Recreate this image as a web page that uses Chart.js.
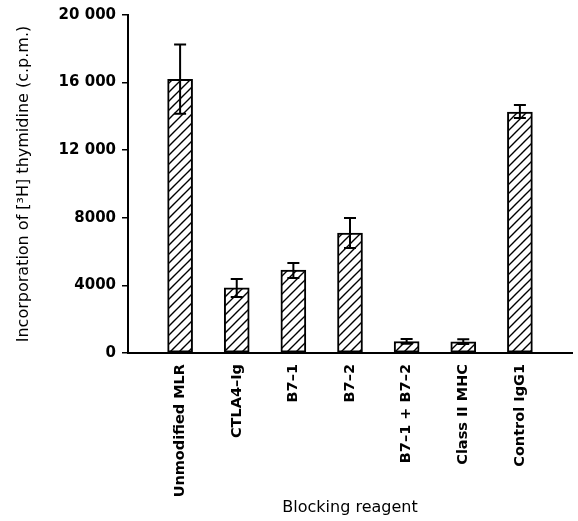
<!DOCTYPE html>
<html>
<head>
<meta charset="utf-8">
<script src="https://cdn.jsdelivr.net/npm/chart.js@4.4.0/dist/chart.umd.min.js"></script>
<style>
  html, body { margin: 0; padding: 0; background: #fff; }
  #wrap { width: 578px; height: 521px; }
</style>
</head>
<body>
<div id="wrap"><canvas id="myChart"></canvas></div>
<script>
var reagents = ['Unmodified MLR', 'CTLA4\u2013Ig', 'B7\u20131', 'B7\u20132', 'B7\u20131 + B7\u20132', 'Class II MHC', 'Control IgG1'];
var counts = [16200, 3850, 4900, 7100, 680, 660, 14250];
var errHigh = [18250, 4380, 5320, 7990, 830, 810, 14670];
var errLow = [14150, 3320, 4440, 6210, 540, 530, 13900];
var yTicks = [0, 4000, 8000, 12000, 16000, 20000];
var yTickLabels = ['0', '4000', '8000', '12 000', '16 000', '20 000'];

// hatch pattern for bars (/// lines, 9px apart)
function hatch() {
	var n = 9;
	var c = document.createElement('canvas');
	c.width = n; c.height = n;
	var g = c.getContext('2d');
	g.fillStyle = '#fff';
	g.fillRect(0, 0, n, n);
	g.strokeStyle = '#000';
	g.lineWidth = 1.4;
	g.beginPath();
	for (var k = 0; k <= 2; k++) {
		var s = k * n;
		g.moveTo(s - n - 2, n + 2);
		g.lineTo(s + 2, -2);
	}
	g.stroke();
	return g.createPattern(c, 'repeat');
}

var errorBars = {
	id: 'errorBars',
	afterDatasetsDraw: function(chart) {
		var ctx = chart.ctx;
		var xs = chart.scales.x, ys = chart.scales.y;
		ctx.save();
		ctx.strokeStyle = '#000';
		ctx.lineWidth = 2;
		for (var i = 0; i < counts.length; i++) {
			var x = xs.getPixelForValue(i);
			var t = ys.getPixelForValue(errHigh[i]);
			var b = ys.getPixelForValue(errLow[i]);
			ctx.beginPath();
			ctx.moveTo(x, t); ctx.lineTo(x, b);
			ctx.moveTo(x - 6, t); ctx.lineTo(x + 6, t);
			ctx.moveTo(x - 6, b); ctx.lineTo(x + 6, b);
			ctx.stroke();
		}
		ctx.restore();
	}
};

var fam = '"DejaVu Sans", sans-serif';

var ctx = document.getElementById('myChart').getContext('2d');
var chart = new Chart(ctx, {
	type: 'bar',
	data: {
		datasets: [{
			data: counts.map(function(v, i) { return { x: i, y: v }; }),
			backgroundColor: hatch(),
			borderColor: '#000',
			borderWidth: 2,
			borderSkipped: false,
			barThickness: 25
		}]
	},
	options: {
		responsive: true,
		maintainAspectRatio: false,
		animation: false,
		layout: { padding: { top: 10, right: 6, left: 10, bottom: 0 } },
		plugins: { legend: { display: false }, tooltip: { enabled: false } },
		scales: {
			x: {
				type: 'linear',
				offset: false,
				min: -0.92,
				max: 6.92,
				afterBuildTicks: function(scale) {
					scale.ticks = reagents.map(function(r, i) { return { value: i }; });
				},
				afterFit: function(scale) { scale.height = 168; },
				grid: { display: false },
				border: { display: true, color: '#000', width: 2 },
				ticks: {
					color: '#000',
					font: { family: fam, size: 14.5, weight: 'bold' },
					minRotation: 90,
					maxRotation: 90,
					padding: 3,
					callback: function(v) { return reagents[v]; }
				},
				title: {
					display: true,
					text: 'Blocking reagent',
					color: '#000',
					font: { family: fam, size: 16 },
					padding: { top: 8, bottom: 4 }
				}
			},
			y: {
				min: 0,
				max: 20000,
				afterBuildTicks: function(scale) {
					scale.ticks = yTicks.map(function(v) { return { value: v }; });
				},
				afterFit: function(scale) { scale.width = 118; },
				grid: { display: true, drawOnChartArea: false, drawTicks: true, tickLength: 6, color: '#000', lineWidth: 1.5 },
				border: { display: true, color: '#000', width: 2 },
				ticks: {
					color: '#000',
					font: { family: fam, size: 15, weight: 'bold' },
					padding: 6,
					callback: function(v) { return yTickLabels[yTicks.indexOf(v)]; }
				},
				title: {
					display: true,
					text: 'Incorporation of [\u00b3H] thymidine (c.p.m.)',
					color: '#000',
					font: { family: fam, size: 16 },
					padding: { bottom: 4 }
				}
			}
		}
	},
	plugins: [errorBars]
});
</script>
</body>
</html>
